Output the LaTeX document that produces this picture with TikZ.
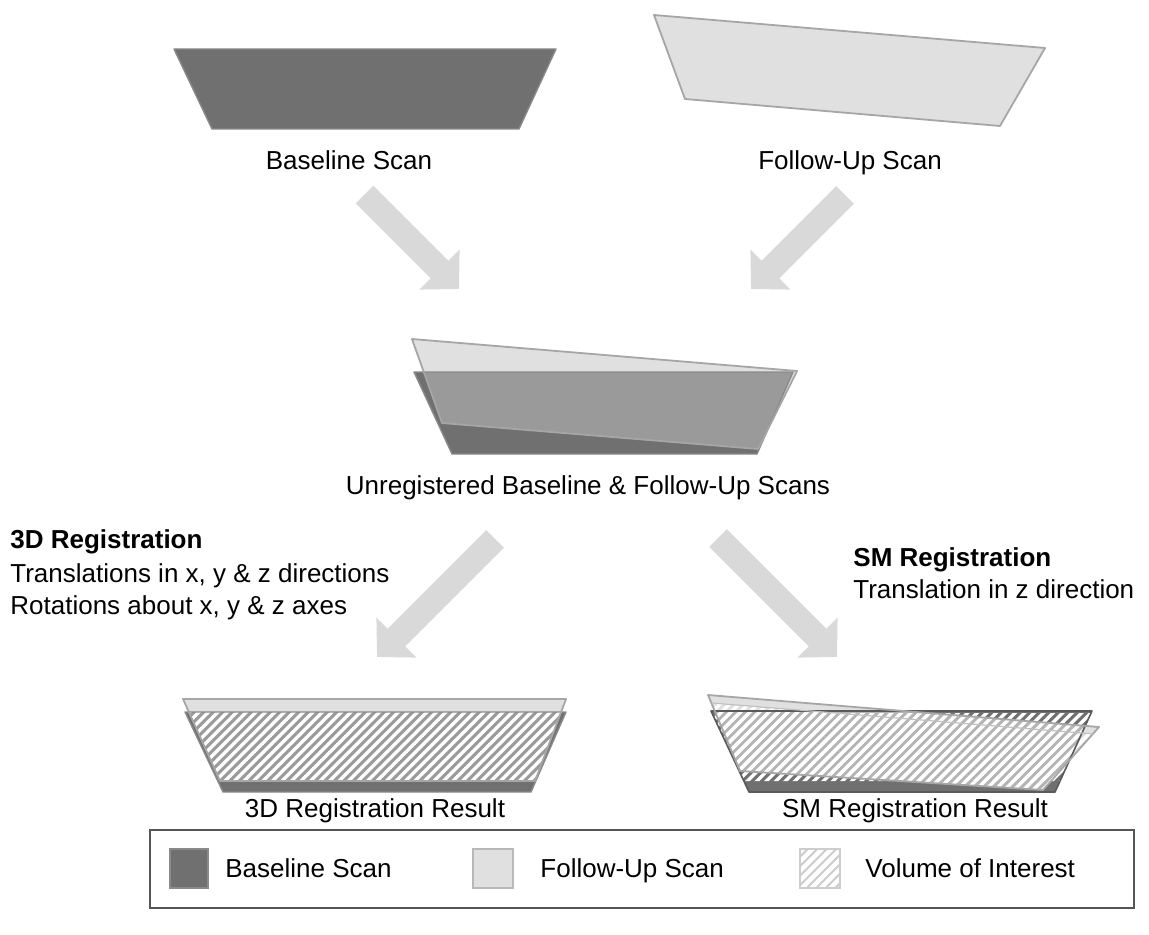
\documentclass[tikz,border=0pt]{standalone}
\usepackage{fontspec}
\setmainfont{Liberation Sans}
\usetikzlibrary{arrows.meta}
\definecolor{basegray}{HTML}{707070}
\definecolor{basedraw}{HTML}{8A8A8A}
\definecolor{fugray}{HTML}{E0E0E0}
\definecolor{fudraw}{HTML}{A6A6A6}
\definecolor{midgray}{HTML}{9A9A9A}
\definecolor{smgray}{HTML}{B4B4B4}
\definecolor{arrowgray}{HTML}{D9D9D9}
\definecolor{legdraw}{HTML}{555555}
\definecolor{leghatch}{HTML}{CDCDCD}
\tikzset{
  lbl/.style={font=\fontsize{13}{15}\selectfont, inner sep=0pt, anchor=base},
  lbll/.style={lbl, anchor=base west},
  bigarrow/.style={draw=arrowgray, line width=12.5pt, -{Triangle[width=27.5pt,length=13.75pt]}},
  basefill/.style={fill=basegray},
  baseline border/.style={draw=basedraw, line width=0.7pt, line join=round},
  fufill/.style={fill=fugray},
  fu border/.style={draw=fudraw, line width=0.9pt, line join=round},
  midfill/.style={fill=midgray},
  voistripe/.style={draw=white, line width=1.7pt},
  legstripe/.style={draw=white, line width=2.2pt},
  legendbox/.style={draw=legdraw, line width=0.6pt}
}
\newcommand\voistripes[1]{\foreach \k in {0,...,160} \draw[#1] ({\k*9.5-400},950) -- ++(350,-350);}
\begin{document}
\begin{tikzpicture}[x=0.5pt,y=-0.5pt]
\useasboundingbox (0,0) rectangle (1149,935);
\fill[white] (0,0) rectangle (1149,935);

% ---------- top scans ----------
\path[basefill, baseline border] (174,49) -- (556,49) -- (519,129) -- (212,129) -- cycle;
\path[fufill, fu border] (654,15) -- (1045,48) -- (1000,126) -- (685,99) -- cycle;
\node[lbl] (bl) at (349,170) {Baseline Scan};
\node[lbl] (fu) at (850,170) {Follow-Up Scan};

% ---------- arrows ----------
\coordinate (a1s) at (364.5,194.5); \coordinate (a1e) at (459,289);
\coordinate (a2s) at (845,195);     \coordinate (a2e) at (751,289);
\coordinate (a3s) at (495,539);     \coordinate (a3e) at (377,657);
\coordinate (a4s) at (718,538);     \coordinate (a4e) at (837,657);
\draw[bigarrow] (a1s) -- (a1e);
\draw[bigarrow] (a2s) -- (a2e);
\draw[bigarrow] (a3s) -- (a3e);
\draw[bigarrow] (a4s) -- (a4e);

% ---------- unregistered ----------
\path[basefill] (414,372) -- (793,372) -- (757,454) -- (452,454) -- cycle;
\path[fufill] (412,339) -- (797,371) -- (758,449) -- (442,423) -- cycle;
\begin{scope}
  \clip (414,372) -- (793,372) -- (757,454) -- (452,454) -- cycle;
  \path[midfill] (412,339) -- (797,371) -- (758,449) -- (442,423) -- cycle;
\end{scope}
\path[baseline border] (414,372) -- (793,372) -- (757,454) -- (452,454) -- cycle;
\path[fu border] (412,339) -- (797,371) -- (758,449) -- (442,423) -- cycle;
\node[lbl] (un) at (588,494) {Unregistered Baseline \& Follow-Up Scans};

% ---------- registration texts ----------
\node[lbll, font=\fontsize{13}{15}\selectfont\bfseries] (r3t) at (10,548) {3D Registration};
\node[lbll] (r3a) at (10,582) {Translations in x, y \& z directions};
\node[lbll] (r3b) at (10,614) {Rotations about x, y \& z axes};
\node[lbll, font=\fontsize{13}{15}\selectfont\bfseries] (rst) at (853,566) {SM Registration};
\node[lbll] (rsa) at (853,598) {Translation in z direction};

% ---------- 3D registration result ----------
\path[basefill] (185,712) -- (566,712) -- (531,792) -- (223,792) -- cycle;
\path[fufill] (183,699) -- (566,699) -- (535,781) -- (220,781) -- cycle;
\begin{scope}
  \clip (185,712) -- (566,712) -- (531,792) -- (223,792) -- cycle;
  \clip (183,699) -- (566,699) -- (535,781) -- (220,781) -- cycle;
  \fill[midgray] (150,690) rectangle (600,800);
  \voistripes{voistripe}
\end{scope}
\path[baseline border] (185,712) -- (566,712) -- (531,792) -- (223,792) -- cycle;
\path[fu border] (183,699) -- (566,699) -- (535,781) -- (220,781) -- cycle;
\node[lbl] (r3r) at (375,817) {3D Registration Result};

% ---------- SM registration result ----------
\path[basefill] (711,711) -- (1092,711) -- (1055,792) -- (749,792) -- cycle;
\path[fufill] (708,695) -- (1099,727) -- (1043,790) -- (740,771) -- cycle;
\begin{scope}
  \clip (711,711) -- (1092,711) -- (1055,792) -- (749,792) -- cycle;
  \path[fill=smgray] (708,695) -- (1099,727) -- (1043,790) -- (740,771) -- cycle;
\end{scope}
\begin{scope}
  \clip (712,713) -- (1091,713) -- (1060,781) -- (744,781) -- cycle;
  \voistripes{voistripe}
\end{scope}
\begin{scope}
  \clip (712,703) -- (1094,734) -- (1043,790) -- (740,771) -- cycle;
  \voistripes{voistripe}
\end{scope}
\path[draw=basegray!80!black, line width=0.8pt, line join=round] (711,711) -- (1092,711) -- (1055,792) -- (749,792) -- cycle;
\path[fu border] (708,695) -- (1099,727) -- (1043,790) -- (740,771) -- cycle;
\path[draw=fudraw!70, line width=0.6pt] (712,703) -- (1094,734);
\node[lbl] (rsr) at (915,817) {SM Registration Result};

% ---------- legend ----------
\node[legendbox, minimum width=492pt, minimum height=39pt, inner sep=0pt] (leg) at (642,869) {};
\path[fill=basegray, draw=basedraw, line width=0.6pt] (170,849) rectangle (208,888);
\node[lbll] (lg1) at (225,877) {Baseline Scan};
\path[fill=fugray, draw=fudraw!80, line width=0.6pt] (473,849) rectangle (513,888);
\node[lbll] (lg2) at (540,877) {Follow-Up Scan};
\begin{scope}
  \clip (800,849) rectangle (840,888);
  \fill[leghatch] (800,849) rectangle (840,888);
  \voistripes{legstripe}
\end{scope}
\path[draw=leghatch, line width=0.6pt] (800,849) rectangle (840,888);
\node[lbll] (lg3) at (865,877) {Volume of Interest};
\end{tikzpicture}
\end{document}
